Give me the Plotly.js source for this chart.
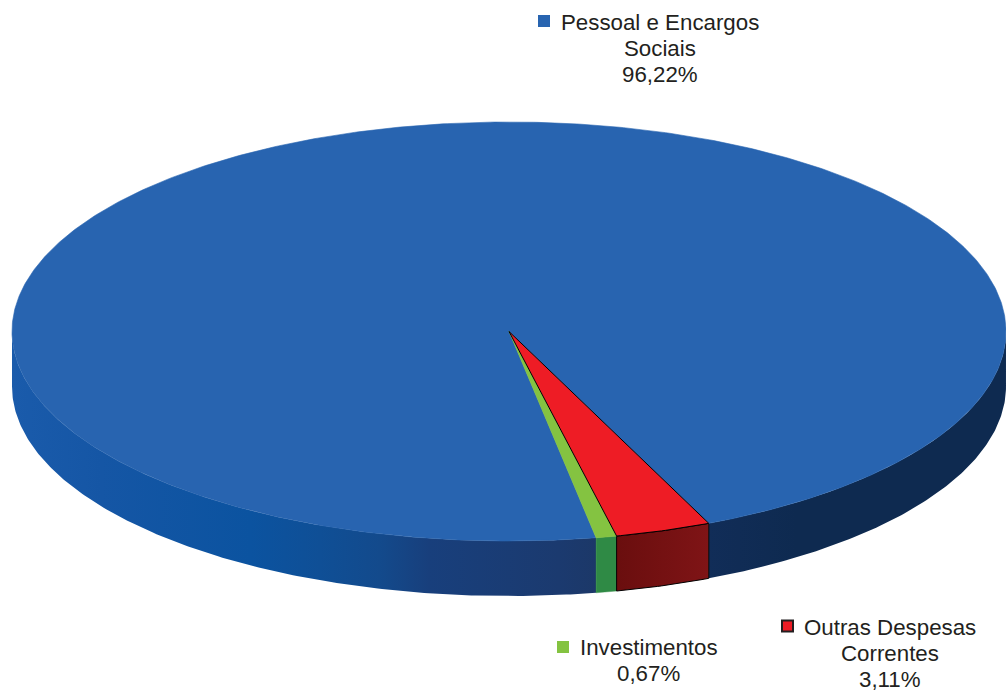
<!DOCTYPE html>
<html>
<head>
<meta charset="utf-8">
<script src="https://cdn.plot.ly/plotly-3.0.1.min.js"></script>
<style>html,body{margin:0;padding:0;background:#fff;overflow:hidden}#chart{width:1006px;height:693px}</style>
</head>
<body>
<div id="chart"></div>
<script>
// Data
var categories = ["Outras Despesas Correntes", "Investimentos", "Pessoal e Encargos Sociais"];
var shares = [3.11, 0.67, 96.22];
var labelLines = [["Outras Despesas", "Correntes", "3,11%"], ["Investimentos", "0,67%"], ["Pessoal e Encargos", "Sociais", "96,22%"]];

// Drawing style and geometry of the tilted disc
var topColors = ["#ee1c25", "#84c341", "#2864b0"];
var wallColors = [["#7f1416", "#6a0e0e"], ["#2f8a45", "#2f8a45"], null];
var blueWallScale = [[0, "#1a5bab"], [0.09, "#1556a5"], [0.24, "#0b53a0"], [0.31, "#0f4f96"], [0.37, "#134a8c"], [0.42, "#183f7c"], [0.55, "#1b3a6f"], [0.59, "#1c3868"], [0.70, "#112d58"], [0.79, "#0e2a50"], [1, "#0e2a50"]];
var cx = 509, cy = 331.5, rx = 497, ry = 209.5, depth = 55;
var startBearing = 156.3;

function px(b) { return cx + rx * Math.sin(b * Math.PI / 180); }
function py(b) { return cy - ry * Math.cos(b * Math.PI / 180); }
function arc(b0, b1, dy) {
  var xs = [], ys = [], n = Math.max(2, Math.ceil(Math.abs(b1 - b0) * 2));
  for (var i = 0; i <= n; i++) {
    var b = b0 + (b1 - b0) * i / n;
    xs.push(px(b)); ys.push(py(b) + dy);
  }
  return {x: xs, y: ys};
}
function wall(b0, b1) {
  var a = arc(b0, b1, 0), c = arc(b1, b0, depth);
  return {x: a.x.concat(c.x, [a.x[0]]), y: a.y.concat(c.y, [a.y[0]])};
}
function polyTrace(p, name, extra) {
  return Object.assign({
    type: "scatter", mode: "lines", x: p.x, y: p.y, fill: "toself", name: name,
    hoverinfo: "name", showlegend: false
  }, extra);
}

var total = shares.reduce(function (a, b) { return a + b; }, 0);
var edges = [startBearing];
shares.forEach(function (v) { edges.push(edges[edges.length - 1] + v / total * 360); });

var walls = [], tops = [];
categories.forEach(function (name, i) {
  var b0 = edges[i], b1 = edges[i + 1];
  var a = arc(b0, b1, 0);
  // unshift: the outlined slice is painted last so its black edge stays on top
  tops.unshift(polyTrace({x: [cx].concat(a.x, [cx]), y: [cy].concat(a.y, [cy])}, name, {
    fillcolor: topColors[i],
    line: {color: i === 0 ? "#000000" : topColors[i], width: i === 0 ? 1 : 0.6}
  }));
  var grad = {
    type: "horizontal", start: cx - rx, stop: cx + rx,
    colorscale: blueWallScale
  };
  if (wallColors[i]) {
    var w = wall(b0, b1);
    walls.unshift(polyTrace(w, name, {
      fillgradient: {type: "horizontal", start: Math.min.apply(null, w.x), stop: Math.max.apply(null, w.x),
        colorscale: [[0, wallColors[i][1]], [1, wallColors[i][0]]]},
      line: {color: i === 0 ? "#000000" : wallColors[i][0], width: i === 0 ? 1 : 0.4}
    }));
  } else {
    // visible front of the remaining slice, either side of the other two
    walls.unshift(polyTrace(wall(b0, 270), name, {fillgradient: grad, line: {width: 0}}));
    walls.unshift(polyTrace(wall(90, startBearing), name, {fillgradient: grad, line: {width: 0}}));
  }
});

var keyX = [787.5, 563, 544], keyY = [626, 647, 21];
var keys = {
  type: "scatter", mode: "markers", x: keyX, y: keyY, hoverinfo: "skip", showlegend: false,
  marker: {symbol: "square", opacity: 1, size: [11, 12, 12], color: topColors,
    line: {color: ["#231f20", topColors[1], topColors[2]], width: [2, 0, 0]}}
};

var labelX = [889.5, 648.5, 660], labelTop = [627, 647, 22], lineStep = 26;
var annotations = [];
labelLines.forEach(function (lines, i) {
  lines.forEach(function (t, j) {
    annotations.push({x: labelX[i], y: labelTop[i] + j * lineStep, xref: "x", yref: "y", text: t, showarrow: false,
      align: "center", xanchor: "center", yanchor: "middle",
      font: {family: "Liberation Sans, Arial, sans-serif", size: 22.3, color: "#231f20"}});
  });
});

var layout = {
  width: 1006, height: 693, margin: {l: 0, r: 0, t: 0, b: 0},
  paper_bgcolor: "#fff", plot_bgcolor: "#fff", showlegend: false,
  xaxis: {range: [0, 1006], visible: false, fixedrange: true},
  yaxis: {range: [693, 0], visible: false, fixedrange: true},
  annotations: annotations
};
Plotly.newPlot("chart", walls.concat(tops, [keys]), layout, {displayModeBar: false});
</script>
</body>
</html>
